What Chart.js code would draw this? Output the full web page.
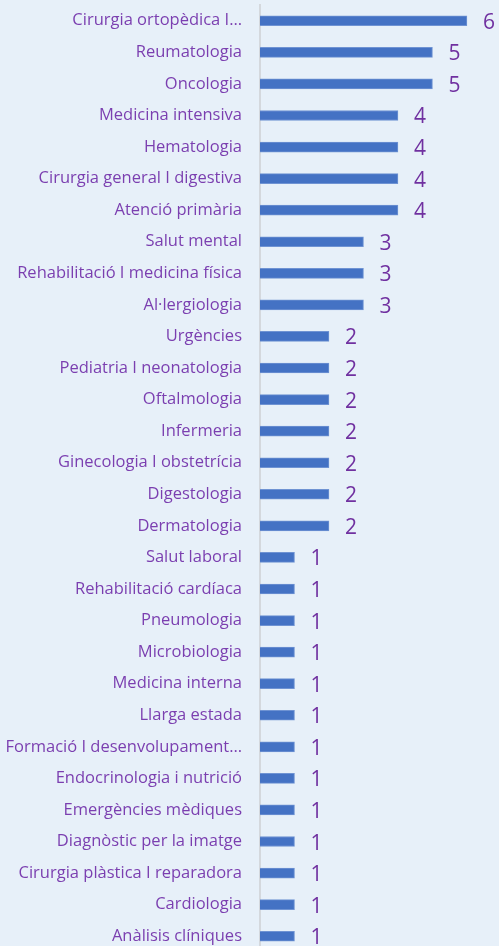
<!DOCTYPE html>
<html><head><meta charset="utf-8">
<script src="https://cdn.jsdelivr.net/npm/chart.js@4/dist/chart.umd.min.js"></script>
<style>
html,body{margin:0;padding:0;background:#e7f0f9;overflow:hidden;width:499px;height:946px;}
#wrap{position:absolute;left:0;top:0;width:499px;height:956px;}
</style></head><body>
<div id="wrap"><canvas id="c"></canvas></div>
<script>
const categories = ["Cirurgia ortopèdica I…","Reumatologia","Oncologia","Medicina intensiva","Hematologia","Cirurgia general I digestiva","Atenció primària","Salut mental","Rehabilitació I medicina física","Al·lergiologia","Urgències","Pediatria I neonatologia","Oftalmologia","Infermeria","Ginecologia I obstetrícia","Digestologia","Dermatologia","Salut laboral","Rehabilitació cardíaca","Pneumologia","Microbiologia","Medicina interna","Llarga estada","Formació I desenvolupament…","Endocrinologia i nutrició","Emergències mèdiques","Diagnòstic per la imatge","Cirurgia plàstica I reparadora","Cardiologia","Anàlisis clíniques"];
const values = [6,5,5,4,4,4,4,3,3,3,2,2,2,2,2,2,2,1,1,1,1,1,1,1,1,1,1,1,1,1];
const purple = "#7030a0";
const labelPlugin = {
  id:'vals',
  afterDatasetsDraw(chart){
    const ctx = chart.ctx;
    const meta = chart.getDatasetMeta(0);
    ctx.save();
    ctx.fillStyle = purple;
    ctx.font = '21px "Open Sans", sans-serif';
    ctx.textAlign = 'left';
    ctx.textBaseline = 'middle';
    meta.data.forEach((el,i)=>{
      ctx.fillText(String(values[i]), el.x + 16, el.y + 2);
    });
    ctx.restore();
  }
};
new Chart(document.getElementById('c'),{
  type:'bar',
  data:{labels:categories,datasets:[{data:values,backgroundColor:'#4472c4',borderColor:'#6f93d3',borderWidth:1,borderSkipped:'left',barThickness:10}]},
  options:{
    indexAxis:'y',responsive:true,maintainAspectRatio:false,animation:false,
    layout:{padding:{top:5,right:0,bottom:4,left:0}},
    plugins:{legend:{display:false},tooltip:{enabled:false}},
    scales:{
      x:{display:false,min:0,max:6.93},
      y:{
        afterFit(s){s.width=260;s.paddingTop=0;s.paddingBottom=0;},
        grid:{display:false,drawTicks:false},
        border:{display:true,color:'#d4d8dd',width:2},
        ticks:{color:'#7b3fb0',padding:18,autoSkip:false,font:{family:'"Open Sans", sans-serif',size:16.5}}
      }
    }
  },
  plugins:[labelPlugin]
});
</script></body></html>
